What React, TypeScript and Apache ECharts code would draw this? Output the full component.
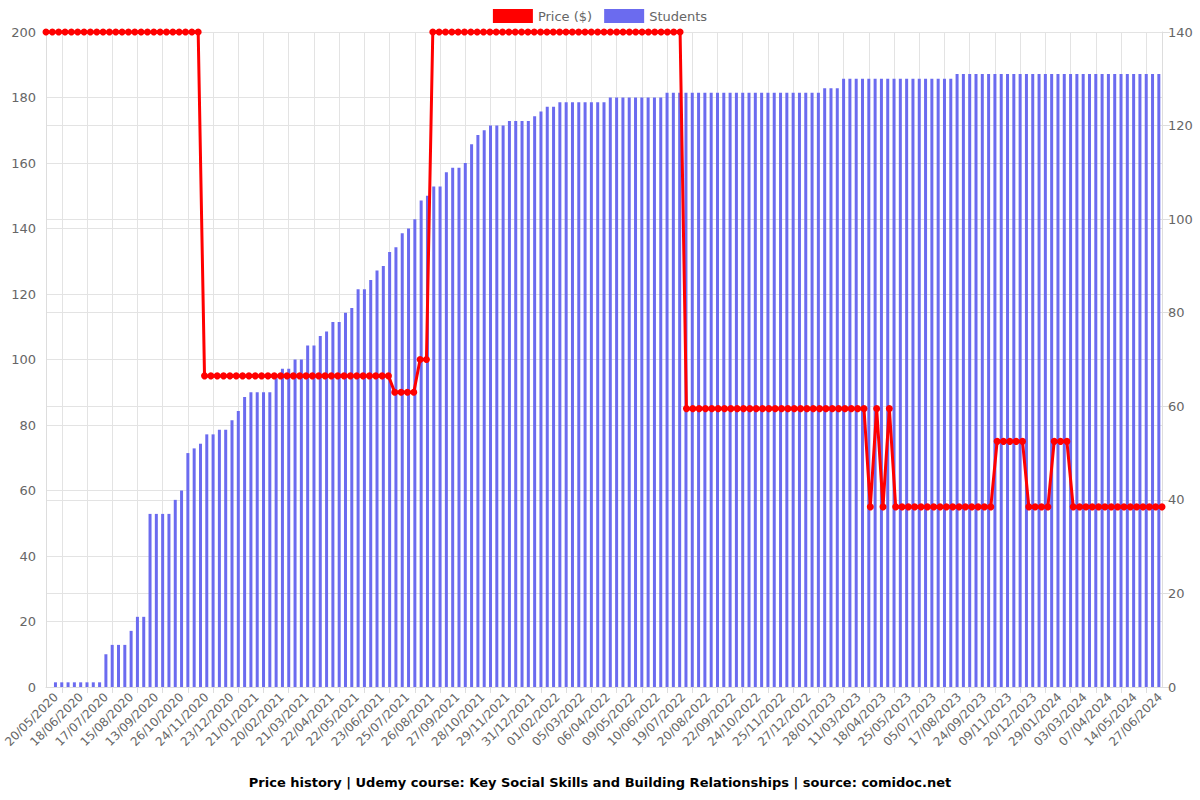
import React, { useEffect, useRef } from "react";
import * as echarts from "echarts";

// Visible tick labels (every 4th date)
const tickLabels = [
  "20/05/2020", "18/06/2020", "17/07/2020", "15/08/2020", "13/09/2020", "26/10/2020",
  "24/11/2020", "23/12/2020", "21/01/2021", "20/02/2021", "21/03/2021", "22/04/2021",
  "22/05/2021", "23/06/2021", "25/07/2021", "26/08/2021", "27/09/2021", "28/10/2021",
  "29/11/2021", "31/12/2021", "01/02/2022", "05/03/2022", "06/04/2022", "09/05/2022",
  "10/06/2022", "19/07/2022", "20/08/2022", "22/09/2022", "24/10/2022", "25/11/2022",
  "27/12/2022", "28/01/2023", "11/03/2023", "18/04/2023", "25/05/2023", "05/07/2023",
  "17/08/2023", "24/09/2023", "09/11/2023", "20/12/2023", "29/01/2024", "03/03/2024",
  "07/04/2024", "14/05/2024", "27/06/2024",
];

// Price runs: [value, count]
const priceRuns: [number, number][] = [
  [200, 25], [95, 30], [90, 4], [100, 2], [200, 40], [85, 29],
  [55, 1], [85, 1], [55, 1], [85, 1], [55, 16], [75, 5], [55, 4], [75, 3], [55, 15],
];

// Students runs: [value, count]
const studentRuns: [number | null, number][] = [
  [null, 1], [1, 8], [7, 1], [9, 3], [12, 1], [15, 2], [37, 4], [40, 1], [42, 1],
  [50, 1], [51, 1], [52, 1], [54, 2], [55, 2], [57, 1], [59, 1], [62, 1], [63, 4],
  [66, 1], [68, 2], [70, 2], [73, 2], [75, 1], [76, 1], [78, 2], [80, 1], [81, 1],
  [85, 2], [87, 1], [89, 1], [90, 1], [93, 1], [94, 1], [97, 1], [98, 1], [100, 1],
  [104, 1], [105, 1], [107, 2], [110, 1], [111, 2], [112, 1], [116, 1], [118, 1],
  [119, 1], [120, 3], [121, 4], [122, 1], [123, 1], [124, 2], [125, 8], [126, 9],
  [127, 25], [128, 3], [130, 18], [131, 33],
];

const expand = <T,>(runs: [T, number][]): T[] => {
  const out: T[] = [];
  runs.forEach(([v, n]) => { for (let i = 0; i < n; i++) out.push(v); });
  return out;
};

const prices = expand(priceRuns);
const students = expand(studentRuns);

const parseD = (s: string) => {
  const [d, m, y] = s.split("/").map(Number);
  return Date.UTC(y, m - 1, d);
};
const fmt = (t: number) => {
  const d = new Date(t);
  const p = (n: number) => String(n).padStart(2, "0");
  return `${p(d.getUTCDate())}/${p(d.getUTCMonth() + 1)}/${d.getUTCFullYear()}`;
};
const categories: string[] = [];
tickLabels.forEach((lab, i) => {
  categories.push(lab);
  if (i < tickLabels.length - 1) {
    const a = parseD(lab), b = parseD(tickLabels[i + 1]);
    for (let j = 1; j < 4; j++) {
      const t = a + Math.round(((b - a) / 86400000) * j / 4) * 86400000;
      categories.push(fmt(t));
    }
  }
});

const FONT = "DejaVu Sans";
const GRID_C = "#e3e3e3";
const everyFourth = (i: number) => i % 4 === 2;

export default function App() {
  const ref = useRef<HTMLDivElement>(null);
  useEffect(() => {
    document.body.style.margin = "0";
    const chart = echarts.init(ref.current!, null, { renderer: "svg" });
    chart.setOption({
      animation: false,
      textStyle: { fontFamily: FONT },
      title: {
        text: "Price history | Udemy course: Key Social Skills and Building Relationships | source: comidoc.net",
        left: "center",
        top: 771,
        textStyle: { fontSize: 13, fontWeight: "bold", color: "#000", fontFamily: FONT },
      },
      legend: {
        top: 4,
        left: "center",
        itemWidth: 40,
        itemHeight: 14,
        itemGap: 12,
        icon: "rect",
        textStyle: { fontSize: 13, color: "#666", fontFamily: FONT },
        data: [
          { name: "Price ($)", itemStyle: { color: "#ff0000" } },
          { name: "Students", itemStyle: { color: "#6b6bef" } },
        ],
      },
      grid: [
        { left: 46, right: 38, top: 32, bottom: 113, containLabel: false, outerBoundsMode: "none" },
        { left: 56, right: 40, top: 32, bottom: 113, containLabel: false, outerBoundsMode: "none" },
      ],
      xAxis: [
        {
          // bars axis: carries ticks and vertical grid lines
          type: "category",
          gridIndex: 0,
          data: categories,
          boundaryGap: true,
          axisLine: { show: true, lineStyle: { color: "#dddddd" } },
          axisTick: { show: true, interval: everyFourth, alignWithLabel: true, length: 6, lineStyle: { color: "#dddddd" } },
          splitLine: { show: true, interval: everyFourth, alignWithLabel: true, lineStyle: { color: GRID_C } },
          axisLabel: { show: false },
        },
        {
          // line axis
          type: "category",
          gridIndex: 0,
          data: categories,
          boundaryGap: false,
          show: false,
          position: "bottom",
        },
        {
          // label axis
          type: "category",
          gridIndex: 1,
          data: tickLabels,
          boundaryGap: false,
          axisLine: { show: false },
          axisTick: { show: false },
          splitLine: { show: false },
          axisLabel: {
            interval: 0,
            rotate: 45,
            color: "#666",
            fontSize: 12,
            fontFamily: FONT,
            margin: 8,
          },
        },
      ],
      yAxis: [
        {
          type: "value",
          gridIndex: 0,
          min: 0,
          max: 200,
          interval: 20,
          position: "left",
          axisLine: { show: true, lineStyle: { color: "#dddddd" } },
          axisTick: { show: false },
          splitLine: { show: true, lineStyle: { color: GRID_C } },
          axisLabel: { color: "#666", fontSize: 13, fontFamily: FONT, margin: 10 },
        },
        {
          type: "value",
          gridIndex: 0,
          min: 0,
          max: 140,
          interval: 20,
          position: "right",
          axisLine: { show: true, lineStyle: { color: "#dddddd" } },
          axisTick: { show: true, length: 8, lineStyle: { color: "#dddddd" } },
          splitLine: { show: true, lineStyle: { color: GRID_C } },
          axisLabel: { color: "#666", fontSize: 13, fontFamily: FONT, margin: 6 },
        },
        {
          type: "value",
          gridIndex: 1,
          show: false,
          min: 0,
          max: 1,
        },
      ],
      series: [
        {
          name: "Price ($)",
          type: "line",
          xAxisIndex: 1,
          yAxisIndex: 0,
          data: prices,
          z: 3,
          symbol: "circle",
          symbolSize: 7,
          showAllSymbol: true,
          itemStyle: { color: "#ff0000" },
          lineStyle: { color: "#ff0000", width: 3 },
        },
        {
          name: "Students",
          type: "bar",
          xAxisIndex: 0,
          yAxisIndex: 1,
          data: students,
          barWidth: 3,
          z: 2,
          itemStyle: { color: "#6b6bef" },
        },
      ],
    });
    return () => chart.dispose();
  }, []);
  return <div ref={ref} style={{ width: 1200, height: 800 }} />;
}
